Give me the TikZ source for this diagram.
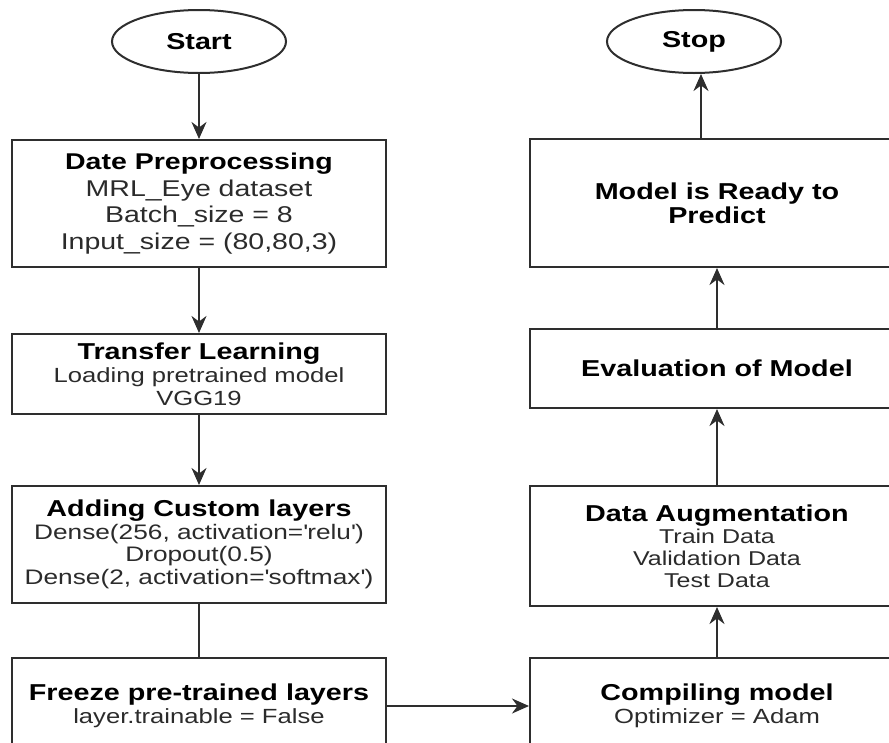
\documentclass[tikz,border=0pt]{standalone}
\usepackage{fontspec}
\setmainfont{Liberation Sans}[FakeStretch=1.25]
\usepackage{tikz}
\usetikzlibrary{arrows.meta,positioning,shapes.geometric}

\definecolor{edgegray}{HTML}{2E2E2E}
\definecolor{textgray}{HTML}{2B2B2B}

\begin{document}
\begin{tikzpicture}[->,>={Stealth[length=17pt,width=15pt,inset=5.5pt]},
  line width=2pt,
  term node/.style={ellipse,draw=edgegray,fill=white,minimum width=174pt,minimum height=63pt,
    text=black,font=\fontsize{23}{27}\selectfont\bfseries},
  step box/.style={rectangle,draw=edgegray,fill=white,minimum width=374pt,align=center,
    text=textgray,font=\fontsize{20.5}{23}\selectfont},
  big box/.style={step box,font=\fontsize{22.8}{26.5}\selectfont}]

  \useasboundingbox (0pt,0pt) rectangle (889pt,-742pt);

  % left column, top to bottom
  \node[term node] (start) at (199pt,-41.5pt) {Start};
  \node[big box,minimum height=127pt] (prep) [below=65pt of start]
    {{\bfseries\color{black}Date Preprocessing}\\MRL\_Eye dataset\\Batch\_size = 8\\Input\_size = (80,80,3)};
  \node[step box,minimum height=80pt] (transfer) [below=65pt of prep]
    {{\fontsize{23}{25}\selectfont\bfseries\color{black}Transfer Learning}\\Loading pretrained model\\VGG19};
  \node[step box,minimum height=117pt,font=\fontsize{21}{22.5}\selectfont] (custom) [below=70pt of transfer]
    {{\fontsize{23}{25}\selectfont\bfseries\color{black}Adding Custom layers}\\
     Dense(256, activation=\textquotesingle relu\textquotesingle)\\Dropout(0.5)\\
     Dense(2, activation=\textquotesingle softmax\textquotesingle)};
  \node[step box,minimum height=96pt] (freeze) [below=53pt of custom]
    {{\fontsize{23}{25}\selectfont\bfseries\color{black}Freeze pre-trained layers}\\layer.trainable = False};

  % right column, bottom to top
  \node[step box,minimum height=96pt] (compile) [right=142pt of freeze]
    {{\fontsize{23}{25}\selectfont\bfseries\color{black}Compiling model}\\Optimizer = Adam};
  \node[step box,minimum height=120pt,font=\fontsize{20}{22}\selectfont] (augment) [above=50pt of compile]
    {{\fontsize{23}{25}\selectfont\bfseries\color{black}Data Augmentation}\\Train Data\\Validation Data\\Test Data};
  \node[step box,minimum height=79pt] (evaluate) [above=76pt of augment]
    {{\fontsize{23}{25}\selectfont\bfseries\color{black}Evaluation of Model}};
  \node[step box,minimum height=128pt,font=\fontsize{23}{24}\selectfont\bfseries] (ready) [above=60pt of evaluate]
    {\color{black}Model is Ready to\\\color{black}Predict};
  \node[term node] (stop) [above=64pt of ready,xshift=-23pt] {Stop};
  \coordinate (readytop) at ([xshift=7pt]ready.north -| stop.south);

  \path[color=edgegray]
    (start) edge (prep)
    (prep) edge (transfer)
    (transfer) edge (custom)
    (custom) edge[-] (freeze)
    (freeze) edge (compile)
    (compile) edge (augment)
    (augment) edge (evaluate)
    (evaluate) edge (ready)
    (readytop) edge (stop.south -| readytop)
    ;

\end{tikzpicture}
\end{document}
